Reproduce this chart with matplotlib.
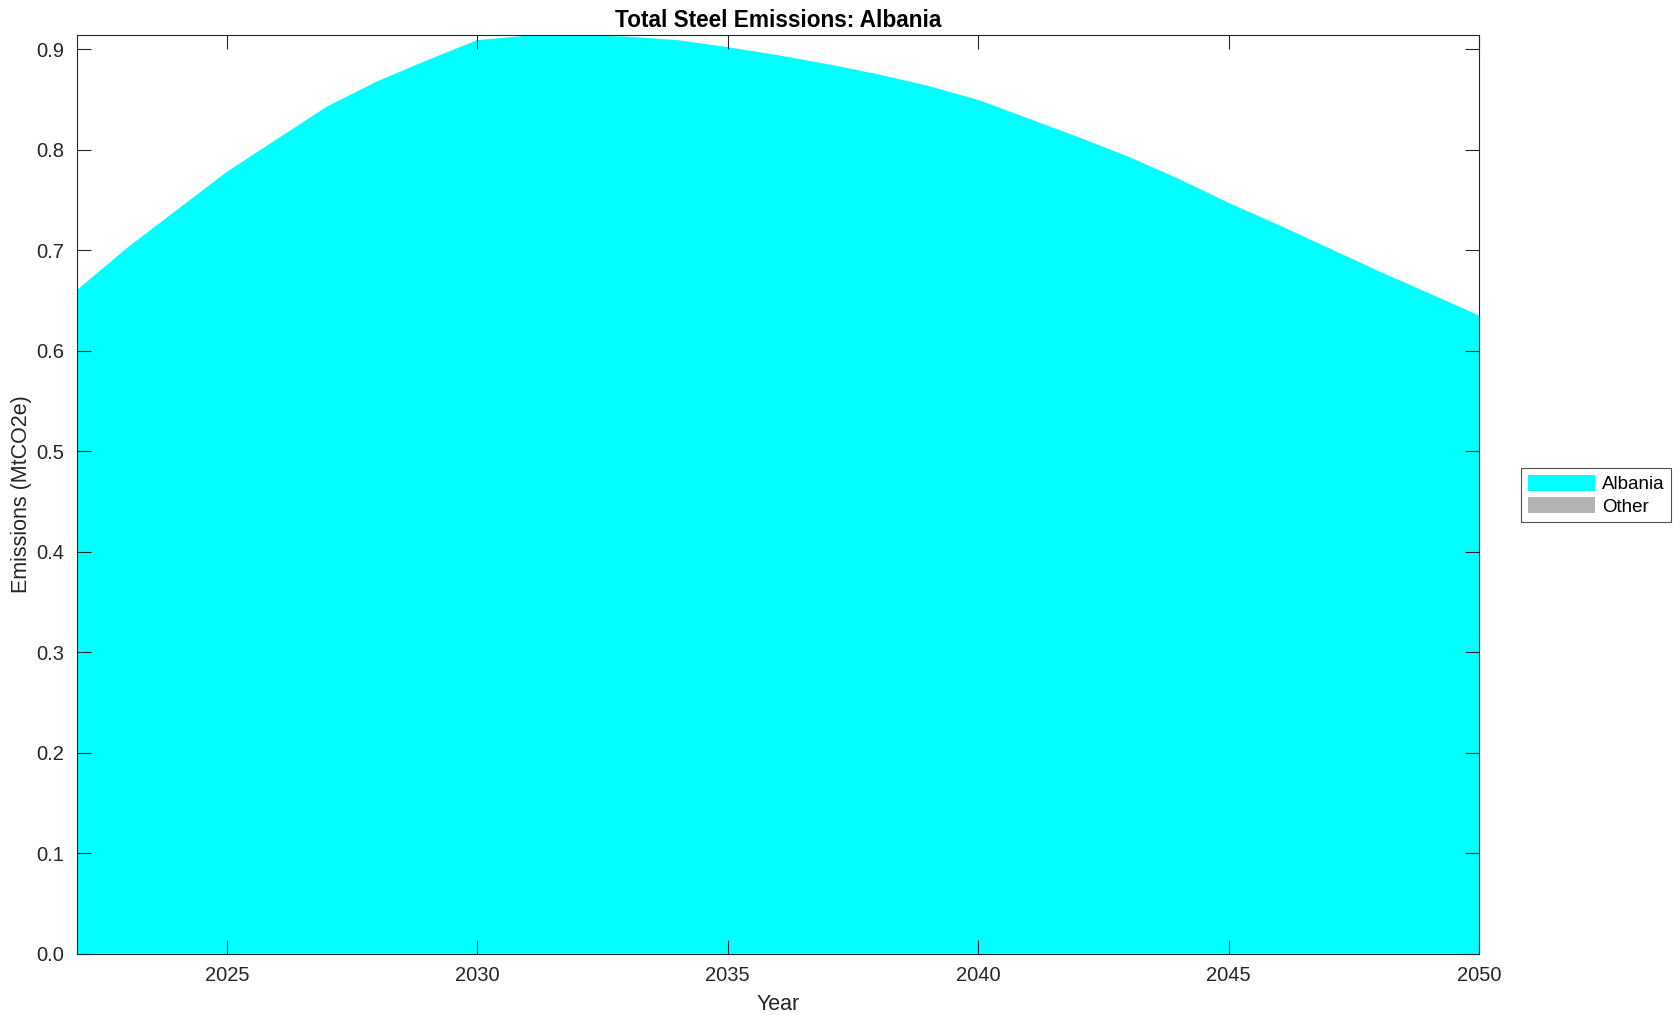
import matplotlib.pyplot as plt
import numpy as np

plt.rcParams['font.family'] = ['Liberation Sans', 'DejaVu Sans']

years = list(range(2022, 2051))
albania = [0.660, 0.702, 0.740, 0.778, 0.8105, 0.843, 0.868, 0.889, 0.909,
           0.9135, 0.914, 0.9125, 0.909, 0.902, 0.894, 0.885, 0.875, 0.8635,
           0.8495, 0.831, 0.8124, 0.793, 0.771, 0.747, 0.725, 0.702, 0.679,
           0.657, 0.635]
other = [0.0] * len(years)

fig = plt.figure(figsize=(16.79, 10.21), dpi=100)
ax = fig.add_axes([0.0456, 0.0658, 0.8354, 0.9000])

polys = ax.stackplot(years, albania, other,
                     colors=['#00ffff', '#b3b3b3'],
                     labels=['Albania', 'Other'], linewidth=0)

ax.set_xlim(2022, 2050)
ax.set_ylim(0, 0.9142)
ax.set_xticks([2025, 2030, 2035, 2040, 2045, 2050])
yt = np.arange(0, 0.91, 0.1)
ax.set_yticks(yt)
ax.set_yticklabels([f'{v:.1f}' for v in yt])
ax.tick_params(direction='in', length=10, width=0.8, top=True, right=True,
               labelsize=14.5, colors='#262626', labelcolor='#262626', pad=9)
for s in ax.spines.values():
    s.set_color('#262626')
    s.set_linewidth(0.8)

ax.set_title('Total Steel Emissions: Albania', fontsize=16.3, fontweight='bold', pad=6)
ax.set_xlabel('Year', fontsize=15.5, color='#262626', labelpad=6)
ax.set_ylabel('Emissions (MtCO2e)', fontsize=15.5, color='#262626', labelpad=3)

leg = fig.legend(handles=polys, labels=['Albania', 'Other'],
                 loc='center left', bbox_to_anchor=(0.9005, 0.515),
                 fontsize=13.5, frameon=True, fancybox=False,
                 edgecolor='#262626', handlelength=3.6, handleheight=0.95,
                 borderpad=0.35, labelspacing=0.2, handletextpad=0.35)
leg.get_frame().set_linewidth(0.8)

fig.savefig('out.png', dpi=100)
